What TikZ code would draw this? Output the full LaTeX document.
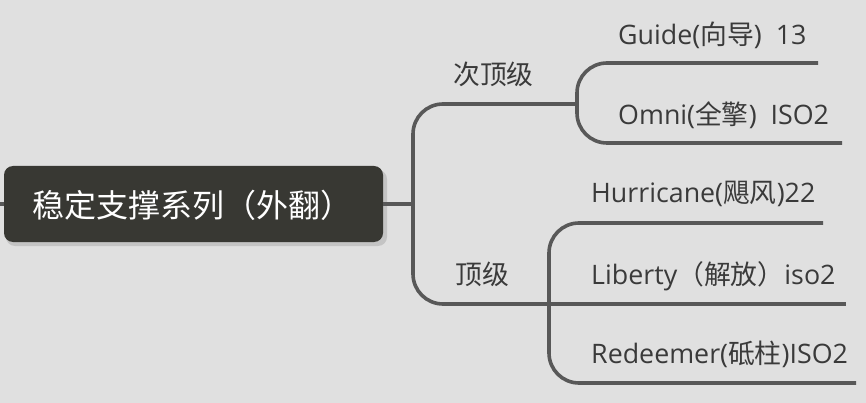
\documentclass[tikz,border=0pt]{standalone}
\usepackage{fontspec}
\setmainfont{Open Sans}
\newfontfamily\cjk{Noto Sans CJK SC}
\newcommand\zh[1]{{\cjk #1}}
\definecolor{bgc}{RGB}{224,224,224}
\definecolor{linec}{RGB}{88,88,88}
\definecolor{txtc}{RGB}{58,58,58}
\definecolor{rootc}{RGB}{56,56,51}
\tikzset{
  conn/.style={draw=linec, line width=3.6pt, rounded corners=30pt},
  lbl/.style={anchor=base west, inner sep=0pt, text=txtc, font=\fontsize{26.8}{30}\selectfont},
  rootbox/.style={rectangle, rounded corners=9pt, fill=rootc, text=white, minimum width=379pt, minimum height=76pt, inner sep=0pt}
}
\begin{document}
\begin{tikzpicture}[x=1pt,y=-1pt]
\useasboundingbox[fill=bgc] (0,0) rectangle (866,403);
% shadow of root
\fill[black,opacity=0.12,rounded corners=9pt] (6,170) rectangle (387,246);
\node[rootbox] (root) at (193.5,204) {};
\node[anchor=base west, inner sep=0pt, text=white, font=\cjk\fontsize{32}{36}\selectfont] (roottxt) at (32,218) {稳定支撑系列（外翻）};
\coordinate (L0) at (0,204);
\coordinate (J) at (413,204);
\coordinate (A) at (577,104);
\coordinate (B) at (549,304);
\coordinate (gE) at (818,63);
\coordinate (oE) at (842,143);
\coordinate (hE) at (823,223);
\coordinate (lE) at (846,304);
\coordinate (rE) at (856,383);
% connectors
\draw[conn] (L0) -- (root.west);
\draw[conn] (root.east) -- (J);
\draw[conn] (J) |- (A);
\draw[conn] (J) |- (B);
\draw[conn] (A) |- (gE);
\draw[conn] (A) |- (oE);
\draw[conn] (B) |- (hE);
\draw[conn] (B) -- (lE);
\draw[conn] (B) |- (rE);
% labels
\node[lbl] (sub) at (453,85) {\zh{次顶级}};
\node[lbl] (top) at (455,284) {\zh{顶级}};
\node[lbl] (guide) at (618,45) {Guide(\zh{向导})\ \ 13};
\node[lbl] (omni) at (618,125) {Omni(\zh{全擎})\ \ ISO2};
\node[lbl] (hurr) at (591,203) {Hurricane(\zh{飓风})22};
\node[lbl] (lib) at (591,284) {Liberty\zh{（解放）}iso2};
\node[lbl] (red) at (591,363) {Redeemer(\zh{砥柱})ISO2};
\end{tikzpicture}
\end{document}
